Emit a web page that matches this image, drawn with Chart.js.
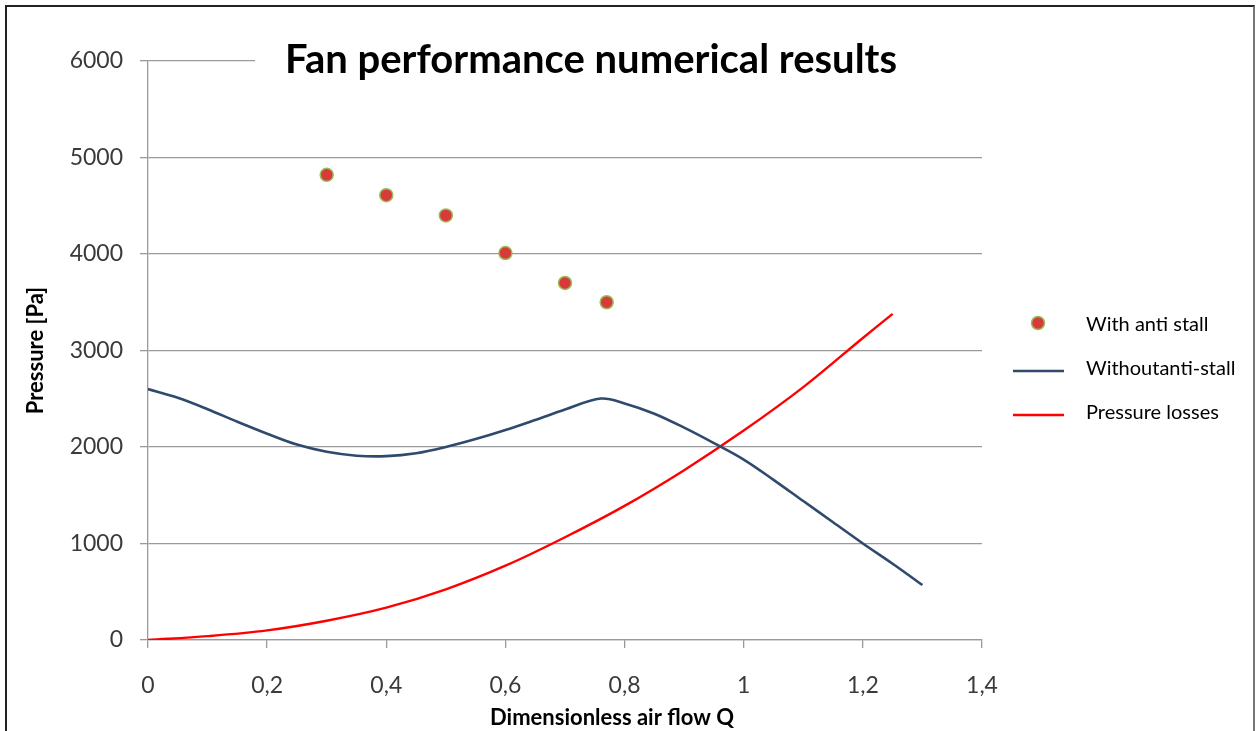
<!DOCTYPE html>
<html>
<head>
<meta charset="utf-8">
<title>Fan performance numerical results</title>
<script src="https://cdn.jsdelivr.net/npm/chart.js@4.4.1/dist/chart.umd.min.js"></script>
<style>
  body { margin: 0; background: #fff; }
  #wrap { position: relative; width: 1257px; height: 731px; overflow: hidden; }
  #frame {
    position: absolute; left: 5px; top: 5px; width: 1246px; height: 800px;
    border-left: 2px solid #222; border-top: 2px solid #222; border-right: 2px solid #777;
    pointer-events: none;
  }
</style>
</head>
<body>
<div id="wrap">
  <canvas id="myChart" width="1257" height="731"></canvas>
  <div id="frame"></div>
</div>
<script>
// chart data
var chartTitle = "Fan performance numerical results";
var xTitle = "Dimensionless air flow Q";
var yTitle = "Pressure [Pa]";

// With anti stall (markers)
var antiQ = [0.3, 0.4, 0.5, 0.6, 0.7, 0.77];
var antiP = [4820, 4610, 4400, 4010, 3700, 3500];

// Without anti-stall (dark blue curve)
var noAntiQ = [0, 0.05, 0.1, 0.15, 0.2, 0.25, 0.3, 0.35, 0.4, 0.45, 0.5, 0.55, 0.6, 0.65,
  0.7, 0.76, 0.8, 0.85, 0.9, 0.95, 1.0, 1.05, 1.1, 1.15, 1.2, 1.25, 1.3];
var noAntiP = [2600, 2510, 2392, 2262, 2138, 2025, 1950, 1910, 1905, 1935, 2000, 2082, 2176, 2280,
  2388, 2502, 2452, 2345, 2200, 2040, 1870, 1660, 1440, 1220, 1000, 790, 570];

// Pressure losses (red curve)
var lossQ = [0, 0.1, 0.2, 0.3, 0.4, 0.5, 0.6, 0.7, 0.8, 0.9, 1.0, 1.1, 1.2, 1.25];
var lossP = [0, 40, 100, 200, 335, 525, 770, 1065, 1390, 1760, 2170, 2620, 3130, 3380];

var legendLabels = ["With anti stall", "Withoutanti-stall", "Pressure losses"];

function toPoints(xs, ys) {
  return xs.map(function (x, i) { return { x: x, y: ys[i] }; });
}

var fontFamily = "Lato, 'Open Sans', sans-serif";
var tickColor = "#3a3a3a";
var gridColor = "#9a9a9a";

// title, axis titles and legend are drawn by hand
var decor = {
  id: "decor",
  afterDraw: function (chart) {
    var ctx = chart.ctx;
    var area = chart.chartArea;
    ctx.save();

    // white box behind title hides the top gridline
    ctx.fillStyle = "#fff";
    ctx.fillRect(255, 30, area.right - 255 + 3, 50);
    ctx.fillStyle = "#000";
    ctx.font = "bold 40px " + fontFamily;
    ctx.textAlign = "center";
    ctx.textBaseline = "alphabetic";
    ctx.fillText(chartTitle, 591, 73);

    // axis titles
    ctx.font = "bold 22px " + fontFamily;
    ctx.textBaseline = "middle";
    ctx.fillText(xTitle, 612, 718);
    ctx.save();
    ctx.translate(36, (area.top + area.bottom) / 2);
    ctx.rotate(-Math.PI / 2);
    ctx.fillText(yTitle, 0, 0);
    ctx.restore();

    // legend
    var ds = chart.data.datasets;
    var rows = [325, 369, 413];
    ctx.font = "20px " + fontFamily;
    ctx.textAlign = "left";
    ctx.fillStyle = "#000";
    for (var i = 0; i < ds.length; i++) {
      var y = rows[i];
      if (ds[i].showLine) {
        ctx.strokeStyle = ds[i].borderColor;
        ctx.lineWidth = ds[i].borderWidth;
        ctx.beginPath();
        ctx.moveTo(1013, y + 2);
        ctx.lineTo(1064, y + 2);
        ctx.stroke();
      } else {
        ctx.beginPath();
        ctx.arc(1038, y - 2, ds[i].pointRadius, 0, Math.PI * 2);
        ctx.fillStyle = ds[i].backgroundColor;
        ctx.fill();
        ctx.strokeStyle = ds[i].borderColor;
        ctx.lineWidth = ds[i].borderWidth;
        ctx.stroke();
      }
      ctx.fillStyle = "#000";
      ctx.fillText(legendLabels[i], 1086, y);
    }
    ctx.restore();
  }
};

var config = {
  type: "scatter",
  data: {
    datasets: [
      {
        label: legendLabels[0],
        data: toPoints(antiQ, antiP),
        showLine: false,
        pointRadius: 6.5,
        pointHoverRadius: 6.5,
        backgroundColor: "#d63a3a",
        borderColor: "#9bbb59",
        borderWidth: 1.5,
      },
      {
        label: legendLabels[1],
        data: toPoints(noAntiQ, noAntiP),
        showLine: true,
        pointRadius: 0,
        borderColor: "#2f4a6d",
        backgroundColor: "#2f4a6d",
        borderWidth: 2.6,
        tension: 0.35,
      },
      {
        label: legendLabels[2],
        data: toPoints(lossQ, lossP),
        showLine: true,
        pointRadius: 0,
        borderColor: "#ff0000",
        backgroundColor: "#ff0000",
        borderWidth: 2.4,
        tension: 0.35,
      },
    ],
  },
  options: {
    responsive: false,
    animation: false,
    layout: { padding: { left: 0, top: 61, right: 275, bottom: 0 } },
    plugins: {
      legend: { display: false },
      title: { display: false },
      tooltip: { enabled: false },
    },
    scales: {
      x: {
        type: "linear",
        min: 0,
        max: 1.4,
        afterFit: function (scale) { scale.height = 91; },
        ticks: {
          stepSize: 0.2,
          padding: 24,
          color: tickColor,
          font: { family: fontFamily, size: 23 },
          callback: function (v) { return String(Math.round(v * 10) / 10).replace(".", ","); },
        },
        grid: { drawOnChartArea: false, drawTicks: true, tickLength: 8, color: gridColor, lineWidth: 1.3 },
        border: { color: gridColor, width: 1.3 },
      },
      y: {
        min: 0,
        max: 6000,
        afterFit: function (scale) { scale.width = 148; },
        ticks: {
          stepSize: 1000,
          padding: 17,
          color: tickColor,
          font: { family: fontFamily, size: 23 },
          callback: function (v) { return String(v); },
        },
        grid: { color: gridColor, lineWidth: 1.3, tickLength: 8 },
        border: { color: gridColor, width: 1.3 },
      },
    },
  },
  plugins: [decor],
};

var myChart = new Chart(document.getElementById("myChart"), config);
</script>
</body>
</html>
